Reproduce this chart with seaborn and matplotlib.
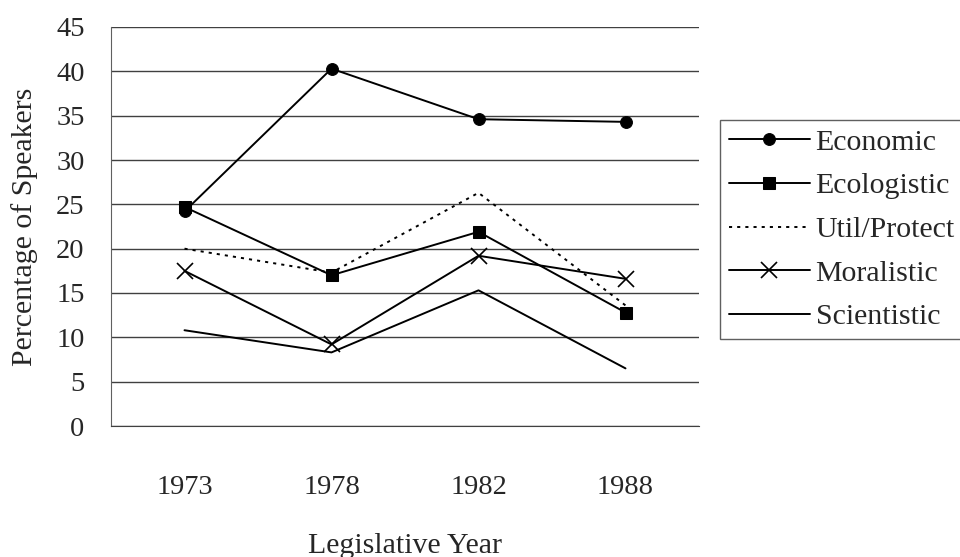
import numpy as np
import pandas as pd
import seaborn as sns
import matplotlib.pyplot as plt

years = ['1973', '1978', '1982', '1988']
economic = [24.2, 40.3, 34.6, 34.3]
ecologistic = [24.7, 17.0, 21.9, 12.8]
util_protect = [20.0, 17.3, 26.3, 13.6]
moralistic = [17.5, 9.2, 19.2, 16.6]
scientistic = [10.8, 8.3, 15.3, 6.5]

sns.set_style('white')
plt.rcParams['font.family'] = ['Liberation Serif', 'DejaVu Serif']
plt.rcParams['font.size'] = 21.5

series = {
    'Economic': economic,
    'Ecologistic': ecologistic,
    'Util/Protect': util_protect,
    'Moralistic': moralistic,
    'Scientistic': scientistic,
}
styles = {
    'Economic': dict(marker='o', markersize=8.5, linestyle='-'),
    'Ecologistic': dict(marker='s', markersize=8.5, linestyle='-'),
    'Util/Protect': dict(marker='', linestyle=(0, (1.6, 2.6))),
    'Moralistic': dict(marker='x', markersize=11, markeredgewidth=1.2, linestyle='-'),
    'Scientistic': dict(marker='', linestyle='-'),
}

fig = plt.figure(figsize=(9.6, 5.57), dpi=100)
ax = fig.add_axes([111 / 960, 131 / 557, 588 / 960, 399 / 557])

pos = np.arange(len(years))
for name, vals in series.items():
    df = pd.DataFrame({'x': pos, 'y': vals})
    sns.lineplot(data=df, x='x', y='y', ax=ax, color='black', linewidth=1.4,
                 markeredgecolor='black', label=name, **styles[name])

ax.set_xlim(-0.5, len(years) - 0.5)
ax.set_ylim(0, 45)
ax.set_yticks(np.arange(0, 46, 5))
ax.set_xticks(pos)
ax.set_xticklabels(years, fontsize=20.5)
ax.set_xticks(np.arange(-0.5, len(years), 1), minor=True)
ax.tick_params(axis='x', which='major', length=0, pad=35)
ax.tick_params(axis='x', which='minor', length=9, width=1, color='#606060', direction='out')
ax.tick_params(axis='y', length=7, width=1, color='#606060', direction='out', pad=12,
               labelsize=20.5)
ax.yaxis.grid(True, color='#404040', linewidth=1)
ax.set_axisbelow(True)

for s in ['top', 'right']:
    ax.spines[s].set_visible(False)
ax.spines['left'].set_color('#606060')
ax.spines['bottom'].set_color('#404040')

ax.set_xlabel('Legislative Year', labelpad=24)
ax.set_ylabel('Percentage of Speakers', labelpad=13)

ax.get_legend().remove()
handles, labels = ax.get_legend_handles_labels()
leg = fig.legend(handles, labels, loc='upper left', bbox_to_anchor=(720 / 960, 1 - 120 / 557),
                 frameon=True, fancybox=False, edgecolor='#606060', framealpha=1,
                 fontsize=21.5, handlelength=2.7, labelspacing=0.56, borderaxespad=0,
                 handletextpad=0.2, borderpad=0.3)
leg.get_frame().set_linewidth(1)

fig.savefig('out.png', dpi=100)
